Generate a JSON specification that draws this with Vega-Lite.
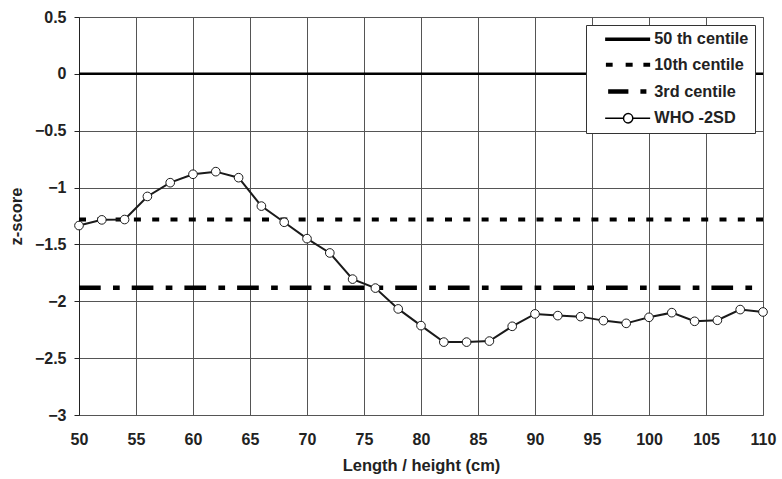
{
  "$schema": "https://vega.github.io/schema/vega-lite/v6.json",
  "width": 684,
  "height": 398,
  "autosize": {"type": "none"},
  "padding": {"left": 79, "top": 17, "right": 19, "bottom": 64},
  "background": "white",
  "config": {
    "font": "Liberation Sans",
    "view": {"stroke": "#777", "strokeWidth": 1},
    "axis": {
      "labelFont": "Liberation Sans",
      "labelFontWeight": "bold",
      "labelFontSize": 16,
      "labelColor": "#222",
      "titleFont": "Liberation Sans",
      "titleFontWeight": "bold",
      "titleFontSize": 16.5,
      "titleColor": "#222",
      "gridColor": "#555",
      "gridWidth": 1,
      "gridOpacity": 1
    }
  },
  "datasets": {
    "refs": [
      {"x": 50, "z": 0, "series": "50 th centile"},
      {"x": 110, "z": 0, "series": "50 th centile"},
      {"x": 50, "z": -1.2816, "series": "10th centile"},
      {"x": 110, "z": -1.2816, "series": "10th centile"},
      {"x": 50, "z": -1.8808, "series": "3rd centile"},
      {"x": 110, "z": -1.8808, "series": "3rd centile"}
    ],
    "who": [
      {"x": 50, "z": -1.334, "series": "WHO -2SD"},
      {"x": 52, "z": -1.284, "series": "WHO -2SD"},
      {"x": 54, "z": -1.281, "series": "WHO -2SD"},
      {"x": 56, "z": -1.078, "series": "WHO -2SD"},
      {"x": 58, "z": -0.957, "series": "WHO -2SD"},
      {"x": 60, "z": -0.883, "series": "WHO -2SD"},
      {"x": 62, "z": -0.86, "series": "WHO -2SD"},
      {"x": 64, "z": -0.913, "series": "WHO -2SD"},
      {"x": 66, "z": -1.163, "series": "WHO -2SD"},
      {"x": 68, "z": -1.305, "series": "WHO -2SD"},
      {"x": 70, "z": -1.449, "series": "WHO -2SD"},
      {"x": 72, "z": -1.575, "series": "WHO -2SD"},
      {"x": 74, "z": -1.805, "series": "WHO -2SD"},
      {"x": 76, "z": -1.884, "series": "WHO -2SD"},
      {"x": 78, "z": -2.067, "series": "WHO -2SD"},
      {"x": 80, "z": -2.214, "series": "WHO -2SD"},
      {"x": 82, "z": -2.359, "series": "WHO -2SD"},
      {"x": 84, "z": -2.359, "series": "WHO -2SD"},
      {"x": 86, "z": -2.35, "series": "WHO -2SD"},
      {"x": 88, "z": -2.22, "series": "WHO -2SD"},
      {"x": 90, "z": -2.111, "series": "WHO -2SD"},
      {"x": 92, "z": -2.126, "series": "WHO -2SD"},
      {"x": 94, "z": -2.135, "series": "WHO -2SD"},
      {"x": 96, "z": -2.17, "series": "WHO -2SD"},
      {"x": 98, "z": -2.194, "series": "WHO -2SD"},
      {"x": 100, "z": -2.141, "series": "WHO -2SD"},
      {"x": 102, "z": -2.1, "series": "WHO -2SD"},
      {"x": 104, "z": -2.176, "series": "WHO -2SD"},
      {"x": 106, "z": -2.167, "series": "WHO -2SD"},
      {"x": 108, "z": -2.073, "series": "WHO -2SD"},
      {"x": 110, "z": -2.094, "series": "WHO -2SD"}
    ]
  },
  "encoding": {
    "x": {
      "field": "x", "type": "quantitative",
      "scale": {"domain": [50, 110], "nice": false, "zero": false},
      "axis": {"values": [50, 55, 60, 65, 70, 75, 80, 85, 90, 95, 100, 105, 110], "title": "Length / height (cm)", "ticks": false, "domain": false, "labelPadding": 16, "titlePadding": 10, "labelFlush": false}
    },
    "y": {
      "field": "z", "type": "quantitative",
      "scale": {"domain": [-3, 0.5], "nice": false, "zero": false},
      "axis": {"values": [-3, -2.5, -2, -1.5, -1, -0.5, 0, 0.5], "format": "~g", "title": "z-score", "tickSize": 5, "tickColor": "#222", "domainColor": "#222", "labelPadding": 8, "titlePadding": 10}
    }
  },
  "layer": [
    {
      "data": {"name": "refs"},
      "transform": [{"filter": "datum.series == '50 th centile'"}],
      "mark": {"type": "line", "color": "black", "strokeWidth": 2.5}
    },
    {
      "data": {"name": "refs"},
      "transform": [{"filter": "datum.series == '10th centile'"}],
      "mark": {"type": "line", "color": "black", "strokeWidth": 4, "strokeDash": [7, 11.3]}
    },
    {
      "data": {"name": "refs"},
      "transform": [{"filter": "datum.series == '3rd centile'"}],
      "mark": {"type": "line", "color": "black", "strokeWidth": 4.5, "strokeDash": [21.7, 12.3, 6.7, 12]}
    },
    {
      "data": {"name": "who"},
      "mark": {"type": "line", "color": "#1a1a1a", "strokeWidth": 2}
    },
    {
      "data": {"name": "who"},
      "mark": {"type": "point", "filled": true, "fill": "white", "stroke": "#1a1a1a", "strokeWidth": 1, "size": 75, "opacity": 1}
    },
    {
      "data": {"name": "refs"},
      "transform": [{"filter": "datum.x < 0"}],
      "mark": {"type": "point", "filled": false, "color": "black", "opacity": 1},
      "encoding": {
        "shape": {
          "field": "series", "type": "nominal",
          "scale": {
            "domain": ["50 th centile", "10th centile", "3rd centile", "WHO -2SD"],
            "range": [
              "M1,0H10",
              "M1.15,0H2.5M5.1,0H6.5M8.65,0H10",
              "M1.6,0H5.65M8.05,0H9.25",
              "M1,0H4.67M6.53,0H10M6.53,0A0.93,0.93 0 1 1 4.67,0A0.93,0.93 0 1 1 6.53,0"
            ]
          },
          "legend": {
            "title": null,
            "orient": "top-right",
            "offset": 8,
            "strokeColor": "#333",
            "fillColor": "white",
            "padding": 6,
            "labelFont": "Liberation Sans",
            "labelFontWeight": "bold",
            "labelFontSize": 16.3,
            "labelColor": "#222",
            "labelOffset": 46,
            "labelExpr": "datum.label + '\u00a0\u00a0'",
            "rowPadding": 8.7,
            "symbolSize": 100,
            "symbolStrokeColor": "black",
            "symbolOpacity": 1
          }
        },
        "strokeWidth": {
          "field": "series", "type": "ordinal",
          "scale": {
            "type": "ordinal",
            "domain": ["50 th centile", "10th centile", "3rd centile", "WHO -2SD"],
            "range": [3.5, 4, 4.5, 1.5]
          },
          "legend": {"title": null}
        }
      }
    }
  ]
}
